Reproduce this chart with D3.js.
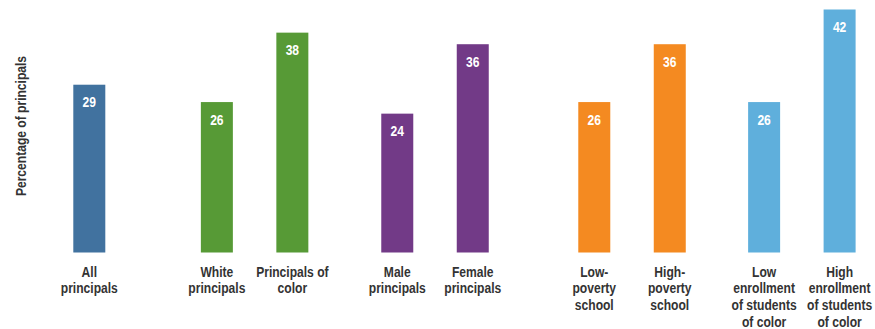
<!DOCTYPE html>
<html>
<head>
<meta charset="utf-8">
<script src="https://cdn.jsdelivr.net/npm/d3@7"></script>
<style>
  html, body { margin: 0; padding: 0; background: #fff; }
  svg { display: block; }
  text { font-family: "Liberation Sans", Arial, sans-serif; font-weight: bold; }
</style>
</head>
<body>
<svg id="chart" width="875" height="329"></svg>
<script>
// ---- data ----
const categories = [
  ["All", "principals"],
  ["White", "principals"],
  ["Principals of", "color"],
  ["Male", "principals"],
  ["Female", "principals"],
  ["Low-", "poverty", "school"],
  ["High-", "poverty", "school"],
  ["Low", "enrollment", "of students", "of color"],
  ["High", "enrollment", "of students", "of color"]
];
const values = [29, 26, 38, 24, 36, 26, 36, 26, 42];
const groups = [0, 1, 1, 2, 2, 3, 3, 4, 4];
const groupColors = ["#41729f", "#579a36", "#723a87", "#f48a21", "#5fafdc"];
const yAxisTitle = "Percentage of principals";

// ---- layout ----
const barW = 32;
const narrow = 0.78; // horizontal squeeze to mimic a condensed face
// extra gap (in bar-slot units) before each group
const groupGapExtra = [0, 0.69, 0.39, 0.61, 0.25];
const slotPos = [];
{
  let acc = 0, prevG = -1;
  values.forEach((v, i) => {
    if (i > 0) acc += 1;
    if (groups[i] !== prevG && i > 0) acc += groupGapExtra[groups[i]];
    prevG = groups[i];
    slotPos.push(acc);
  });
}
const x = d3.scaleLinear()
  .domain([0, slotPos[slotPos.length - 1]])
  .range([89.3, 839.6]);
const y = d3.scaleLinear().domain([0, 42]).range([252.5, 9.5]);

const svg = d3.select("#chart");

// bars
svg.append("g").selectAll("rect")
  .data(values)
  .join("rect")
  .attr("x", (d, i) => x(slotPos[i]) - barW / 2)
  .attr("y", d => y(d))
  .attr("width", barW)
  .attr("height", d => y(0) - y(d))
  .attr("fill", (d, i) => groupColors[groups[i]]);

// value labels
svg.append("g").selectAll("g")
  .data(values)
  .join("g")
  .attr("transform", (d, i) => `translate(${x(slotPos[i])},${y(d) + 22.5}) scale(${narrow},1)`)
  .append("text")
  .attr("text-anchor", "middle")
  .attr("fill", "#fff")
  .attr("font-size", 15.5)
  .text(d => d);

// category labels
const lab = svg.append("g").selectAll("g")
  .data(categories)
  .join("g")
  .attr("transform", (d, i) => `translate(${x(slotPos[i])},276.7) scale(${narrow},1)`)
  .append("text")
  .attr("text-anchor", "middle")
  .attr("fill", "#333")
  .attr("font-size", 15.5);
lab.selectAll("tspan")
  .data(d => d)
  .join("tspan")
  .attr("x", 0)
  .attr("dy", (d, j) => j === 0 ? 0 : 16.7)
  .text(d => d);

// y axis title
svg.append("g")
  .attr("transform", `translate(26,126) rotate(-90) scale(${narrow},1)`)
  .append("text")
  .attr("text-anchor", "middle")
  .attr("fill", "#333")
  .attr("font-size", 15.5)
  .text(yAxisTitle);
</script>
</body>
</html>
